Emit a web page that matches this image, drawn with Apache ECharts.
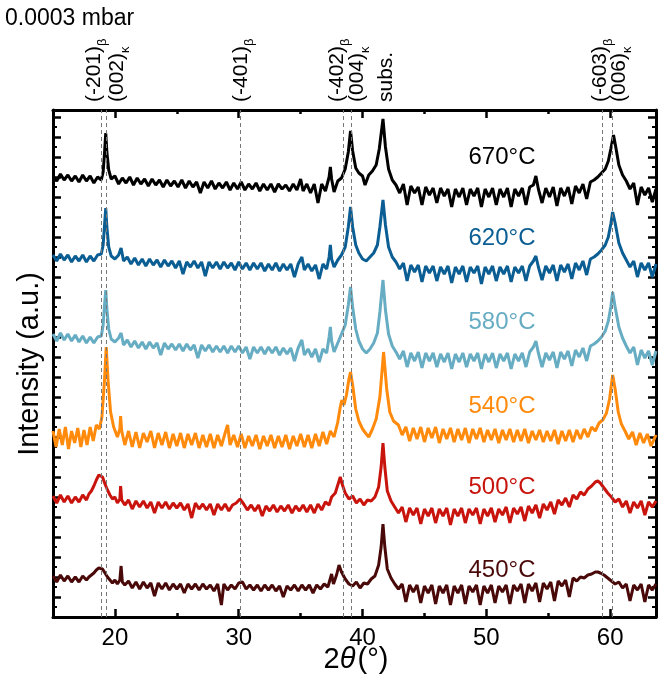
<!DOCTYPE html>
<html>
<head>
<meta charset="utf-8">
<script src="https://cdn.jsdelivr.net/npm/echarts@6/dist/echarts.min.js"></script>
<style>
  html, body { margin: 0; padding: 0; background: #fff; }
  #chart { width: 659px; height: 684px; }
</style>
</head>
<body>
<div id="chart"></div>
<script>
// 2θ (deg) vs stacked intensity (a.u.)
const temps = ['670°C', '620°C', '580°C', '540°C', '500°C', '450°C'];
const colors = ['#000000', '#0b5e93', '#66acc3', '#ff8a0c', '#c8140c', '#4a0909'];
const labelY = [157, 238, 322, 406, 487, 570];

const s670 = [[15,441],[15.3,436],[15.6,443],[15.9,437],[16.2,442],[16.5,436],[16.8,441],[17.1,435],[17.4,442],[17.7,436],[18.0,441],[18.3,434],[18.6,440],[18.9,437],[19.05,445],[19.15,462],[19.26,484],[19.35,465],[19.5,447],[19.7,438],[20,441],[20.3,433],[20.6,439],[20.9,434],[21.2,440],[21.5,432],[21.8,439],[22.1,433],[22.4,438],[22.7,431],[23,438],[23.3,432],[23.6,437],[23.9,430],[24.2,437],[24.5,431],[24.8,436],[25.1,430],[25.4,437],[25.7,429],[26,436],[26.3,430],[26.6,435],[26.9,424],[27.2,435],[27.5,429],[27.8,436],[28.1,428],[28.4,434],[28.7,429],[29,435],[29.3,427],[29.6,434],[29.9,428],[30.2,435],[30.5,427],[30.8,433],[31.1,428],[31.4,434],[31.7,426],[32,433],[32.3,427],[32.6,433],[32.9,425],[33.2,433],[33.5,428],[33.8,432],[34.1,426],[34.4,433],[34.7,427],[35.0,438],[35.2,426],[35.5,433],[35.8,424],[36.1,433],[36.4,414],[36.7,433],[37.0,426],[37.3,440],[37.4,450],[37.5,438],[37.7,425],[38.0,436],[38.3,439],[38.6,448],[38.85,465],[39.03,486],[39.2,466],[39.45,449],[39.7,444],[40.0,441],[40.2,432],[40.5,442],[40.8,446],[41.1,452],[41.35,468],[41.65,498],[41.85,470],[42.1,448],[42.4,437],[42.7,432],[43.0,424],[43.3,433],[43.6,412],[43.9,431],[44.2,424],[44.5,430],[44.8,412],[45.1,430],[45.4,422],[45.7,429],[46.0,414],[46.3,429],[46.6,421],[46.9,428],[47.2,410],[47.5,428],[47.8,420],[48.1,429],[48.4,412],[48.7,428],[49.0,421],[49.3,429],[49.6,410],[49.9,428],[50.2,420],[50.5,429],[50.8,412],[51.1,428],[51.4,420],[51.7,429],[52.0,410],[52.3,428],[52.6,421],[52.9,429],[53.2,412],[53.5,430],[53.8,432],[54.0,441],[54.2,428],[54.5,414],[54.8,429],[55.1,420],[55.4,430],[55.7,411],[56.0,429],[56.3,421],[56.6,430],[56.9,413],[57.2,431],[57.5,424],[57.8,433],[58.1,418],[58.4,435],[58.7,437],[59.0,440],[59.3,444],[59.6,448],[59.85,456],[60.05,468],[60.27,482],[60.45,470],[60.7,452],[61.0,442],[61.3,436],[61.6,428],[61.9,434],[62.2,412],[62.5,430],[62.8,422],[63.1,429],[63.4,415],[63.7,428]];

const s620 = [[15,362],[15.3,356],[15.6,363],[15.9,357],[16.2,362],[16.5,355],[16.8,361],[17.1,356],[17.4,362],[17.7,355],[18.0,361],[18.3,356],[18.6,362],[18.9,363],[19.05,372],[19.15,390],[19.26,409],[19.35,390],[19.5,370],[19.7,361],[20.0,358],[20.3,362],[20.5,369],[20.7,356],[21.0,360],[21.3,353],[21.6,359],[21.9,352],[22.2,358],[22.5,351],[22.8,358],[23.1,352],[23.4,357],[23.7,350],[24.0,357],[24.3,351],[24.6,356],[24.9,349],[25.2,356],[25.5,343],[25.8,355],[26.1,350],[26.4,356],[26.7,349],[27.0,355],[27.3,341],[27.6,355],[27.9,349],[28.2,355],[28.5,348],[28.8,355],[29.1,349],[29.4,354],[29.7,347],[30.0,355],[30.3,348],[30.6,354],[30.9,347],[31.2,354],[31.5,348],[31.8,354],[32.1,346],[32.4,353],[32.7,347],[33.0,354],[33.3,346],[33.6,353],[33.9,347],[34.2,353],[34.5,340],[34.8,353],[35.1,360],[35.3,347],[35.6,353],[35.9,346],[36.2,352],[36.5,338],[36.8,353],[37.1,348],[37.3,360],[37.4,372],[37.5,358],[37.7,350],[38.0,357],[38.3,362],[38.6,370],[38.85,390],[39.03,410],[39.2,390],[39.45,372],[39.7,364],[40.0,358],[40.3,356],[40.6,360],[40.9,364],[41.2,372],[41.4,390],[41.65,417],[41.85,392],[42.1,370],[42.4,360],[42.7,355],[43.0,348],[43.3,354],[43.6,336],[43.9,352],[44.2,345],[44.5,352],[44.8,335],[45.1,351],[45.4,344],[45.7,351],[46.0,336],[46.3,350],[46.6,343],[46.9,351],[47.2,334],[47.5,350],[47.8,343],[48.1,351],[48.4,335],[48.7,350],[49.0,344],[49.3,351],[49.6,333],[49.9,350],[50.2,343],[50.5,351],[50.8,336],[51.1,350],[51.4,343],[51.7,351],[52.0,335],[52.3,350],[52.6,344],[52.9,351],[53.2,336],[53.5,351],[53.8,356],[54.0,361],[54.2,350],[54.5,337],[54.8,351],[55.1,344],[55.4,352],[55.7,336],[56.0,352],[56.3,345],[56.6,353],[56.9,338],[57.2,354],[57.5,347],[57.8,356],[58.1,342],[58.4,358],[58.7,360],[59.0,363],[59.3,367],[59.6,372],[59.85,380],[60.05,393],[60.2,405],[60.4,394],[60.7,374],[61.0,364],[61.3,357],[61.6,350],[61.9,356],[62.2,340],[62.5,354],[62.8,347],[63.1,354],[63.4,340],[63.7,353]];

const s580 = [[15,283],[15.3,276],[15.6,284],[15.9,277],[16.2,283],[16.5,276],[16.8,282],[17.1,275],[17.4,281],[17.7,274],[18.0,280],[18.3,274],[18.6,280],[18.9,281],[19.05,292],[19.15,310],[19.26,327],[19.35,308],[19.5,288],[19.7,278],[20.0,275],[20.3,279],[20.5,284],[20.7,272],[21.0,277],[21.3,270],[21.6,276],[21.9,269],[22.2,275],[22.5,268],[22.8,275],[23.1,269],[23.4,274],[23.7,262],[24.0,274],[24.3,268],[24.6,273],[24.9,267],[25.2,273],[25.5,266],[25.8,273],[26.1,267],[26.4,272],[26.7,259],[27.0,272],[27.3,266],[27.6,272],[27.9,265],[28.2,271],[28.5,265],[28.8,271],[29.1,264],[29.4,271],[29.7,265],[30.0,271],[30.3,264],[30.6,270],[30.9,258],[31.2,270],[31.5,264],[31.8,270],[32.1,263],[32.4,270],[32.7,264],[33.0,270],[33.3,262],[33.6,269],[33.9,263],[34.2,269],[34.5,256],[34.8,269],[35.1,277],[35.3,262],[35.6,268],[35.9,260],[36.2,268],[36.5,255],[36.8,268],[37.1,264],[37.3,280],[37.4,290],[37.5,276],[37.7,265],[38.0,274],[38.3,283],[38.6,292],[38.85,312],[39.03,330],[39.2,310],[39.45,288],[39.7,276],[40.0,268],[40.3,264],[40.6,268],[40.9,274],[41.2,284],[41.4,305],[41.65,337],[41.85,307],[42.1,283],[42.4,271],[42.7,265],[43.0,258],[43.3,266],[43.6,250],[43.9,264],[44.2,256],[44.5,265],[44.8,249],[45.1,264],[45.4,256],[45.7,264],[46.0,250],[46.3,263],[46.6,255],[46.9,264],[47.2,248],[47.5,263],[47.8,255],[48.1,264],[48.4,250],[48.7,263],[49.0,256],[49.3,264],[49.6,248],[49.9,263],[50.2,255],[50.5,264],[50.8,249],[51.1,263],[51.4,256],[51.7,264],[52.0,248],[52.3,263],[52.6,256],[52.9,264],[53.2,250],[53.5,265],[53.8,270],[54.0,276],[54.2,264],[54.5,250],[54.8,264],[55.1,257],[55.4,265],[55.7,249],[56.0,265],[56.3,258],[56.6,266],[56.9,251],[57.2,267],[57.5,260],[57.8,269],[58.1,256],[58.4,271],[58.7,273],[59.0,276],[59.3,280],[59.6,286],[59.85,296],[60.05,310],[60.2,325],[60.4,310],[60.7,290],[61.0,279],[61.3,271],[61.6,264],[61.9,270],[62.2,252],[62.5,267],[62.8,259],[63.1,266],[63.4,252],[63.7,266]];

const s540 = [[15,186],[15.25,170],[15.5,188],[15.75,172],[16.0,190],[16.25,168],[16.5,186],[16.75,174],[17.0,189],[17.25,170],[17.5,187],[17.75,172],[18.0,190],[18.25,176],[18.5,192],[18.75,188],[18.95,200],[19.15,235],[19.3,270],[19.45,236],[19.65,205],[19.9,190],[20.2,180],[20.4,188],[20.46,201],[20.55,186],[20.8,172],[21.1,186],[21.4,170],[21.7,185],[22.0,169],[22.3,184],[22.6,175],[22.9,186],[23.2,169],[23.5,184],[23.8,172],[24.1,185],[24.4,169],[24.7,183],[25.0,171],[25.3,184],[25.6,169],[25.9,183],[26.2,172],[26.5,184],[26.8,169],[27.1,182],[27.4,170],[27.7,183],[28.0,169],[28.3,182],[28.6,171],[28.9,184],[29.1,192],[29.3,172],[29.6,182],[29.9,170],[30.2,183],[30.5,169],[30.8,181],[31.1,171],[31.4,182],[31.7,168],[32.0,181],[32.3,171],[32.6,182],[32.9,169],[33.2,181],[33.5,170],[33.8,182],[34.1,168],[34.4,181],[34.7,171],[35.0,183],[35.3,170],[35.6,182],[35.9,169],[36.2,183],[36.5,171],[36.8,185],[37.1,173],[37.4,186],[37.7,180],[38.0,195],[38.2,210],[38.33,217],[38.5,212],[38.7,222],[38.9,238],[39.03,245],[39.2,232],[39.45,208],[39.7,196],[40.0,188],[40.3,183],[40.5,180],[40.8,188],[41.1,198],[41.4,220],[41.7,265],[41.95,228],[42.2,205],[42.5,196],[42.9,192],[43.2,182],[43.5,190],[43.8,176],[44.1,189],[44.4,178],[44.7,190],[45.0,175],[45.3,189],[45.6,179],[45.9,190],[46.2,174],[46.5,188],[46.8,178],[47.1,189],[47.4,175],[47.7,188],[48.0,177],[48.3,189],[48.6,174],[48.9,188],[49.2,178],[49.5,189],[49.8,175],[50.1,187],[50.4,177],[50.7,188],[51.0,174],[51.3,187],[51.6,177],[51.9,188],[52.2,175],[52.5,187],[52.8,176],[53.1,188],[53.4,174],[53.7,186],[54.0,177],[54.3,187],[54.6,175],[54.9,186],[55.2,176],[55.5,187],[55.8,173],[56.1,186],[56.4,176],[56.7,187],[57.0,175],[57.3,187],[57.6,178],[57.9,188],[58.2,180],[58.5,190],[58.8,186],[59.1,194],[59.4,197],[59.7,204],[59.95,218],[60.2,242],[60.4,228],[60.65,205],[60.9,193],[61.2,186],[61.5,178],[61.8,185],[62.1,172],[62.4,184],[62.7,174],[63.0,183],[63.3,171],[63.7,182]];

const s500 = [[15,121],[15.3,114],[15.6,122],[15.9,115],[16.2,121],[16.5,114],[16.8,120],[17.1,115],[17.4,122],[17.7,117],[17.9,123],[18.1,126],[18.3,131],[18.5,137],[18.7,142],[18.85,144],[19.0,140],[19.2,133],[19.4,127],[19.6,122],[19.8,118],[20.0,120],[20.2,114],[20.4,118],[20.46,131],[20.55,117],[20.8,112],[21.1,117],[21.4,108],[21.7,116],[22.0,110],[22.3,116],[22.6,109],[22.9,115],[23.2,104],[23.5,115],[23.8,109],[24.1,115],[24.4,108],[24.7,114],[25.0,109],[25.3,114],[25.6,107],[25.9,113],[26.2,99],[26.5,114],[26.8,108],[27.1,113],[27.4,107],[27.7,113],[28.0,102],[28.3,113],[28.6,107],[28.9,113],[29.2,106],[29.5,112],[29.8,114],[30.1,118],[30.4,113],[30.7,107],[31.0,112],[31.3,106],[31.6,112],[31.9,101],[32.2,111],[32.5,106],[32.8,112],[33.1,105],[33.4,111],[33.7,106],[34.0,112],[34.3,104],[34.6,111],[34.9,106],[35.2,112],[35.5,105],[35.8,112],[36.1,104],[36.4,113],[36.7,107],[37.0,115],[37.3,112],[37.5,120],[37.8,124],[38.0,132],[38.2,140],[38.35,133],[38.6,124],[38.9,118],[39.2,121],[39.5,114],[39.8,118],[40.1,112],[40.4,117],[40.7,116],[41.0,120],[41.3,130],[41.5,150],[41.65,174],[41.8,150],[42.0,126],[42.3,116],[42.6,110],[42.9,104],[43.2,110],[43.5,95],[43.8,109],[44.1,102],[44.4,109],[44.7,93],[45.0,108],[45.3,101],[45.6,109],[45.9,94],[46.2,108],[46.5,101],[46.8,109],[47.1,92],[47.4,108],[47.7,101],[48.0,109],[48.3,94],[48.6,108],[48.9,102],[49.2,109],[49.5,93],[49.8,108],[50.1,101],[50.4,109],[50.7,95],[51.0,108],[51.3,102],[51.6,110],[51.9,94],[52.2,109],[52.5,103],[52.8,110],[53.1,96],[53.4,111],[53.7,104],[54.0,112],[54.3,99],[54.6,113],[54.9,107],[55.2,115],[55.5,103],[55.8,117],[56.1,112],[56.4,119],[56.7,110],[57.0,122],[57.3,118],[57.6,125],[57.9,122],[58.2,128],[58.5,131],[58.8,135],[59.0,136],[59.2,134],[59.5,129],[59.8,124],[60.1,120],[60.4,115],[60.7,118],[61.0,110],[61.3,116],[61.6,104],[61.9,115],[62.2,109],[62.5,116],[62.8,102],[63.1,115],[63.4,110],[63.7,116]];

const s450 = [[15,41],[15.3,35],[15.6,42],[15.9,36],[16.2,41],[16.5,35],[16.8,40],[17.1,35],[17.4,41],[17.7,37],[17.9,40],[18.1,42],[18.3,44],[18.5,47],[18.7,49],[18.85,51],[19.0,48],[19.2,44],[19.4,40],[19.6,37],[19.8,34],[20.0,37],[20.2,33],[20.4,37],[20.5,51],[20.6,35],[20.8,32],[21.1,36],[21.4,29],[21.7,35],[22.0,28],[22.3,35],[22.6,29],[22.9,34],[23.2,21],[23.5,34],[23.8,28],[24.1,34],[24.4,27],[24.7,33],[25.0,28],[25.3,33],[25.6,24],[25.9,33],[26.2,28],[26.5,33],[26.8,27],[27.1,33],[27.4,28],[27.7,32],[28.0,26],[28.3,33],[28.6,12],[28.8,33],[29.1,27],[29.4,32],[29.7,28],[30.0,34],[30.3,35],[30.6,28],[30.9,32],[31.2,27],[31.5,32],[31.8,26],[32.1,32],[32.4,27],[32.7,32],[33.0,26],[33.3,31],[33.6,20],[33.9,31],[34.2,27],[34.5,32],[34.8,26],[35.1,32],[35.4,27],[35.7,32],[36.0,24],[36.3,32],[36.6,28],[36.9,33],[37.2,30],[37.5,43],[37.65,33],[37.9,42],[38.1,52],[38.3,45],[38.6,38],[38.9,33],[39.2,31],[39.5,35],[39.8,29],[40.1,34],[40.4,33],[40.7,38],[41.0,41],[41.3,52],[41.5,70],[41.65,93],[41.8,70],[42.0,48],[42.3,39],[42.6,33],[42.9,28],[43.2,33],[43.5,15],[43.8,32],[44.1,25],[44.4,32],[44.7,14],[45.0,31],[45.3,24],[45.6,32],[45.9,13],[46.2,31],[46.5,24],[46.8,32],[47.1,12],[47.4,31],[47.7,24],[48.0,32],[48.3,13],[48.6,31],[48.9,25],[49.2,32],[49.5,12],[49.8,31],[50.1,24],[50.4,32],[50.7,14],[51.0,31],[51.3,25],[51.6,32],[51.9,13],[52.2,32],[52.5,26],[52.8,33],[53.1,14],[53.4,33],[53.7,26],[54.0,34],[54.3,15],[54.6,34],[54.9,28],[55.2,35],[55.5,16],[55.8,36],[56.1,31],[56.4,37],[56.7,20],[57.0,39],[57.3,36],[57.6,40],[57.9,39],[58.2,42],[58.5,43],[58.8,45],[59.0,45],[59.2,44],[59.5,42],[59.8,39],[60.1,36],[60.4,33],[60.7,35],[61.0,29],[61.3,33],[61.6,16],[61.9,32],[62.2,27],[62.5,33],[62.8,15],[63.1,32],[63.4,27],[63.7,33]];

const allSeries = [s670, s620, s580, s540, s500, s450];

// reflection positions (dashed lines)
const refLines = [18.9, 19.3, 30.1, 38.43, 39.11, 59.37, 60.14];
// top labels: [text, subscript, x px]
const peakLabels = [
  ['(-201)', 'β', 96], ['(002)', 'κ', 119], ['(-401)', 'β', 243],
  ['(-402)', 'β', 339], ['(004)', 'κ', 359], ['subs.', '', 386],
  ['(-603)', 'β', 602], ['(006)', 'κ', 621]
];

const FONT = '"Liberation Sans", Arial, sans-serif';
const X_MIN = 15, X_MAX = 63.7;

let myChart = echarts.init(document.getElementById('chart'));

function xAx(pos, major, labels) {
  return {
    type: 'value', position: pos, min: X_MIN, max: X_MAX,
    interval: major ? undefined : 5,
    axisLine: { show: major, lineStyle: { color: '#000', width: 3 } },
    axisTick: { show: true, inside: true, length: major ? 8 : 4, lineStyle: { color: '#000', width: 2.5 } },
    axisLabel: {
      show: labels, margin: 9, color: '#000', fontSize: 24, fontFamily: FONT,
      formatter: v => (v % 10 === 0 ? String(v) : '')
    },
    splitLine: { show: false }
  };
}

function yAx(pos) {
  return {
    type: 'value', position: pos, min: 0, max: 507, interval: 20,
    axisLine: { show: true, lineStyle: { color: '#000', width: 3 } },
    axisTick: { show: true, inside: true, length: 8, lineStyle: { color: '#000', width: 2.5 } },
    minorTick: { show: true, splitNumber: 2, length: 4, lineStyle: { color: '#000', width: 2 } },
    axisLabel: { show: false },
    splitLine: { show: false }
  };
}

let graphics = [
  { type: 'text', x: 5, y: 19, style: { text: '0.0003 mbar', font: '23px ' + FONT, fill: '#000', verticalAlign: 'middle' } },
  { type: 'text', x: 30, y: 364, rotation: Math.PI / 2,
    style: { text: 'Intensity (a.u.)', font: '29px ' + FONT, fill: '#000', align: 'center', verticalAlign: 'middle' } },
  { type: 'text', x: 356, y: 660,
    style: { text: '{n|2}{i|θ}{n|(°)}', align: 'center', verticalAlign: 'middle',
      rich: { n: { fontSize: 29, fontFamily: FONT, fill: '#000' }, i: { fontSize: 29, fontFamily: FONT, fontStyle: 'italic', fill: '#000', padding: [0, 2, 0, 0] } } } }
];
temps.forEach((t, i) => {
  graphics.push({ type: 'text', x: 502, y: labelY[i],
    style: { text: t, font: '24px ' + FONT, fill: colors[i], align: 'center', verticalAlign: 'middle' } });
});
peakLabels.forEach(p => {
  graphics.push({ type: 'text', x: p[2], y: 102, rotation: Math.PI / 2,
    style: {
      text: '{a|' + p[0] + '}' + (p[1] ? '{s|' + p[1] + '}' : ''),
      align: 'left', verticalAlign: 'middle',
      rich: {
        a: { fontSize: 21, fontFamily: FONT, fill: '#000', lineHeight: 21, verticalAlign: 'top' },
        s: { fontSize: 13, fontFamily: FONT, fill: '#000', lineHeight: 25, verticalAlign: 'bottom' }
      }
    } });
});

let series = allSeries.map((d, i) => ({
  name: temps[i], type: 'line', data: d, showSymbol: false, silent: true,
  lineStyle: { color: colors[i], width: 3 }, itemStyle: { color: colors[i] },
  z: 3
}));
series.push({
  type: 'line', data: [], silent: true, z: 2,
  markLine: {
    silent: true, symbol: 'none', label: { show: false },
    lineStyle: { color: '#777', type: [4, 3], width: 1 },
    data: refLines.map(v => ({ xAxis: v }))
  }
});

let option = {
  animation: false,
  grid: { left: 53, right: 1, top: 110, bottom: 67 },
  xAxis: [xAx('bottom', true, true), xAx('bottom', false, false), xAx('top', true, false), xAx('top', false, false)],
  yAxis: [yAx('left'), yAx('right')],
  graphic: graphics,
  series: series
};

myChart.setOption(option);
window.addEventListener('resize', function () { myChart.resize(); });
</script>
</body>
</html>
